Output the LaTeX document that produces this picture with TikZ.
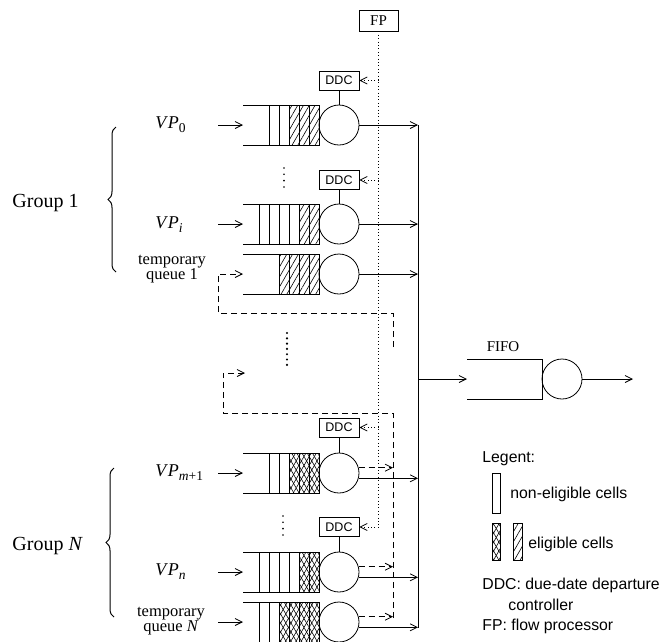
\documentclass[tikz,border=0pt]{standalone}
\usepackage{fontspec}
\setmainfont{Liberation Serif}
\setsansfont{Liberation Sans}
\usetikzlibrary{arrows.meta,patterns.meta,decorations.pathreplacing}

\tikzset{
  server/.style={draw, circle, minimum size=40pt, inner sep=0pt},
  pcell/.style={draw, minimum width=10pt, minimum height=40pt, inner sep=0pt},
  hcell/.style={pcell, pattern={Lines[angle=60,distance=5pt,line width=0.6pt]}},
  xcell/.style={pcell, pattern={Lines[angle=60,distance=4.5pt,line width=0.6pt]},
    postaction={pattern={Lines[angle=120,distance=4.5pt,line width=0.6pt]}}},
  ddc/.style={draw, minimum width=40pt, minimum height=19pt, inner sep=0pt,
    font=\sffamily\fontsize{12.5}{14}\selectfont},
  fpbox/.style={draw, minimum width=39pt, minimum height=21pt, inner sep=0pt,
    font=\fontsize{15}{17}\selectfont},
  vplabel/.style={anchor=base west, inner sep=0pt, font=\fontsize{18}{20}\selectfont},
  grouplabel/.style={anchor=base west, inner sep=0pt, font=\fontsize{20}{22}\selectfont},
  tqlabel/.style={align=center, inner sep=0pt, font=\fontsize{16.5}{15}\selectfont},
  legtext/.style={anchor=base west, inner sep=0pt, font=\sffamily\fontsize{15.8}{18}\selectfont},
  fpline/.style={dash pattern=on 0.8pt off 2.6pt},
  dashline/.style={dash pattern=on 6pt off 4pt},
  groupbrace/.style={decorate, decoration={brace, amplitude=8pt}, line width=1pt}
}

% queue: name, y, cells from right to left
\newcommand{\vpqueue}[3]{%
  \draw (243,#2-20) -- (319,#2-20) (243,#2+20) -- (319,#2+20);
  \foreach \t [count=\k] in {#3}
    \node[\t] (#1c\k) at (324-10*\k,#2) {};
  \coordinate (#1in) at (243,#2);
  \coordinate (#1tail) at (218,#2);
}
\newcommand{\vpname}[1]{\textit{V\kern1.5pt P}\raisebox{-4pt}{\fontsize{13.5}{14}\selectfont #1}}

\begin{document}
\begin{tikzpicture}[x=1pt, y=-1pt, line width=0.8pt,
    >={Straight Barb[length=7pt,width=7pt]}]
  \useasboundingbox (0,0) rectangle (669,641);

  % flow processor
  \node[fpbox] (fp) at (378.5,20.5) {FP};

  % queues of group 1
  \vpqueue{q1}{125}{hcell,hcell,hcell,pcell,pcell}
  \vpqueue{q2}{224}{hcell,hcell,pcell,pcell,pcell,pcell}
  \vpqueue{q3}{274}{hcell,hcell,hcell,hcell}

  % queues of group N
  \vpqueue{q4}{473}{xcell,xcell,xcell,pcell,pcell}
  \vpqueue{q5}{572}{xcell,xcell,pcell,pcell,pcell,pcell}
  \vpqueue{q6}{622}{xcell,xcell,xcell,xcell,pcell,pcell}

  % servers
  \node[server] (s1) at (339,125) {};
  \node[server] (s2) at (339,224) {};
  \node[server] (s3) at (339,274) {};
  \node[server] (s4) at (339,473) {};
  \node[server] (s5) at (339,572) {};
  \node[server] (s6) at (339,622) {};

  % due-date departure controllers
  \node[ddc] (d1) at (339,80.5) {DDC};
  \node[ddc] (d2) at (339,180) {DDC};
  \node[ddc] (d3) at (339,427.5) {DDC};
  \node[ddc] (d4) at (339,527) {DDC};
  \foreach \d/\s in {d1/s1,d2/s2,d3/s4,d4/s5} \draw (\d) -- (\s);

  % dotted control line from FP
  \coordinate (fpend) at (378.5,527);
  \draw[fpline] (fp) -- (fpend);
  \foreach \d in {d1,d2,d3,d4} \draw[fpline,->] (\d.east -| fp) -- (\d.east);

  % inputs
  \foreach \q in {q1,q2,q4,q5,q6} \draw[->] (\q tail) -- (\q in);

  % output bus
  \coordinate (bt) at (418,125);
  \coordinate (bb) at (418,628);
  \draw (bt) -- (bb);
  \foreach \s in {s1,s2,s3} \draw[->] (\s.east) -- (\s.east -| bt);
  \foreach \s in {s4,s5,s6} \draw[->] (\s.-15) -- (\s.-15 -| bt);

  % feedback to temporary queues
  \coordinate (ua) at (393,347);
  \coordinate (ub) at (393,313);
  \coordinate (uc) at (218,313);
  \draw[dashline,->] (ua) -- (ub) -- (uc) |- (q3in);
  \coordinate (db) at (393,618);
  \coordinate (dt) at (393,413);
  \coordinate (dc) at (223,373);
  \coordinate (dend) at (245,373);
  \draw[dashline,->] (db) -- (dt) -| (dc) -- (dend);
  \foreach \s in {s4,s5,s6} \draw[dashline,->] (\s.15) -- (\s.15 -| db);

  % vertical dots
  \foreach \k in {0,...,3} \fill (284,168+6.3*\k) circle (0.9pt);
  \foreach \k in {0,...,6} \fill (287,333+5.3*\k) circle (1.2pt);
  \foreach \k in {0,...,3} \fill (283,516+6.3*\k) circle (0.9pt);

  % FIFO
  \node[server] (fifo) at (562,379) {};
  \draw (467,359) -- (542,359) -- (542,399) -- (467,399);
  \coordinate (fin) at (467,379);
  \coordinate (fout) at (633,379);
  \draw[->] (bt |- fin) -- (fin);
  \draw[->] (fifo) -- (fout);
  \node[font=\fontsize{15}{17}\selectfont] (fifol) at (503,347) {FIFO};

  % labels
  \node[vplabel] (vp0) at (155,128) {\vpname{0}};
  \node[vplabel] (vpi) at (155,228) {\vpname{\textit{i}}};
  \node[vplabel] (vpm) at (155,476) {\vpname{\textit{m}+1}};
  \node[vplabel] (vpn) at (155,575) {\vpname{\textit{n}}};
  \node[tqlabel] (tq1) at (172,269) {temporary\\queue 1};
  \node[tqlabel] (tqn) at (171,621) {temporary\\queue \textit{N}};

  % groups
  \draw[groupbrace] (116,272) -- (116,127);
  \draw[groupbrace] (114,617) -- (114,468);
  \node[grouplabel] (g1) at (12,207) {Group 1};
  \node[grouplabel] (gn) at (12,550) {Group \textit{N}};

  % legend
  \node[legtext] (leg) at (482,462) {Legent:};
  \node[pcell, minimum width=8pt] (lgp) at (496,493) {};
  \node[legtext] (lgpt) at (510,498) {non-eligible cells};
  \node[xcell, minimum width=8pt, minimum height=37pt] (lgx) at (496,541.5) {};
  \node[hcell, minimum width=9pt, minimum height=37pt] (lgh) at (517.5,541.5) {};
  \node[legtext] (lght) at (528,548) {eligible cells};
  \node[legtext] (lgd) at (482,589) {DDC: due-date departure};
  \node[legtext] (lgd2) at (508,610) {controller};
  \node[legtext] (lgf) at (482,630) {FP: flow processor};
\end{tikzpicture}
\end{document}
